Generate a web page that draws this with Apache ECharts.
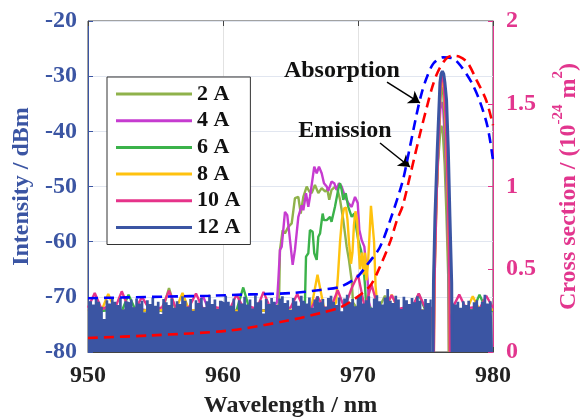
<!DOCTYPE html>
<html>
<head>
<meta charset="utf-8">
<script src="https://cdn.jsdelivr.net/npm/echarts@6/dist/echarts.min.js"></script>
<style>
  html, body { margin: 0; padding: 0; background: #fff; }
  #chart { width: 580px; height: 420px; }
</style>
</head>
<body>
<div id="chart"></div>
<script>
// ---------- axes ----------
const wlMin = 950, wlMax = 980, wlStep = 10;
const dbMin = -80, dbMax = -20, dbStep = 10;
const csMin = 0, csMax = 2, csStep = 0.5;

const seriesNames = ['2 A', '4 A', '6 A', '8 A', '10 A', '12 A'];

// ---------- 12 A noise floor (dBm), 0.2 nm sampling ----------
const noise12Start = 950.0, noise12Step = 0.2;
const noise12Left = [
  -70.0, -70.8, -71.4, -70.3, -70.9, -71.8, -74.0, -70.6, -71.2, -70.4,
  -70.9, -71.5, -70.2, -72.3, -70.8, -71.0, -70.5, -71.9, -70.3, -71.2,
  -70.7, -72.8, -70.6, -71.3, -70.1, -71.6, -70.9, -73.1, -70.4, -71.0,
  -71.5, -70.3, -72.0, -70.8, -71.3, -69.9, -70.7, -71.8, -70.4, -72.5,
  -70.6, -71.1, -70.2, -71.9, -70.8, -69.6, -71.3, -70.5, -72.2, -70.7,
  -71.0, -69.8, -70.9, -71.6, -70.3, -72.6, -70.6, -71.2, -70.0, -71.4,
  -70.5, -72.1, -69.7, -71.0, -70.6, -73.0, -70.4, -71.3, -70.2, -70.9,
  -71.5, -70.3, -69.9, -71.1, -70.6, -72.4, -70.2, -70.8, -71.6, -69.8,
  -70.7, -71.2, -70.1, -72.0, -70.5, -69.9, -71.0, -70.4, -71.8, -70.2,
  -69.8, -70.9, -71.5, -70.1, -72.6, -70.3, -69.6, -71.0, -70.4, -71.7,
  -70.0, -69.5, -71.2, -70.6, -69.9, -72.0, -70.3, -69.7, -70.8, -71.4,
  -70.1, -68.6, -70.7, -71.1, -69.8, -70.5, -72.2, -70.0, -70.6, -71.3,
  -70.2, -71.0, -69.9, -70.7, -72.3, -70.4, -71.1, -70.5
];
const noise12RightStart = 977.0;
const noise12Right = [
  -70.6, -71.4, -70.9, -72.0, -70.8, -71.5, -70.7, -72.3,
  -71.0, -70.6, -71.8, -70.9, -69.6, -71.2, -70.8, -71.5
];
const noiseGapStart = 975.52, noiseGapEnd = 976.98;

// ---------- floors of the lower currents, 0.5 nm sampling ----------
const floorStart = 950.0, floorStep = 0.5, floorRightStart = 977.0;
const floor2A = [
  -72.4, -72.6, -72.3, -72.5, -72.6, -72.4, -72.5, -72.3, -72.6, -72.5,
  -72.4, -72.6, -68.4, -72.5, -72.3, -72.6, -72.4, -72.5, -72.6, -72.3,
  -72.5, -72.4, -72.6, -72.3, -72.5, -72.6, -72.4, -72.5, -72.3, -72.6,
  -72.5, -72.4, -72.6, -72.3, -72.5, -72.4, -72.6, -72.5, -72.3, -72.6,
  -72.4, -72.5, -72.6, -72.3, -69.8, -72.5, -72.4, -72.6, -72.3, -72.5,
  -72.6, -72.4
];
const floor2ARight = [-72.5, -72.3, -72.6, -72.4, -72.5, -72.6, -72.3];
const floor4A = [
  -72.6, -72.4, -72.5, -72.3, -72.6, -72.5, -72.4, -72.6, -72.3, -72.5,
  -72.4, -72.6, -72.5, -72.3, -72.6, -72.4, -72.5, -69.8, -72.6, -72.3,
  -72.5, -72.4, -72.6, -72.5, -72.3, -72.6, -72.4, -72.5, -72.6, -72.3,
  -72.4, -72.5, -72.6, -72.3, -72.5, -72.4, -72.6, -72.5, -72.3, -72.6,
  -72.4, -72.5, -72.6, -72.3, -72.5, -72.4, -72.6, -72.5, -72.3, -72.6,
  -72.4, -72.5
];
const floor4ARight = [-72.4, -72.6, -72.5, -72.3, -72.6, -72.4, -72.5];
const floor6A = [
  -72.5, -72.3, -72.6, -72.4, -72.5, -72.6, -69.6, -72.3, -72.5, -72.4,
  -72.6, -72.5, -72.3, -72.6, -72.4, -72.5, -72.6, -72.3, -72.4, -72.5,
  -72.6, -72.4, -72.5, -68.3, -72.6, -72.4, -72.5, -72.3, -72.6, -72.4,
  -72.5, -72.6, -72.3, -72.4, -72.5, -72.6, -72.4, -72.3, -72.5, -72.6,
  -72.4, -72.5, -72.3, -72.6, -72.4, -72.5, -72.6, -72.3, -72.4, -69.5,
  -72.5, -72.6
];
const floor6ARight = [-72.4, -72.6, -72.3, -72.5, -69.6, -72.4, -72.6];
const floor8A = [
  -72.4, -72.6, -72.5, -69.5, -72.3, -72.6, -72.4, -72.5, -72.6, -72.3,
  -72.5, -72.4, -72.6, -72.3, -69.3, -72.5, -72.4, -72.6, -72.5, -72.3,
  -72.6, -72.4, -72.5, -72.6, -72.3, -72.4, -72.5, -72.6, -72.4, -72.3,
  -72.5, -72.6, -72.4, -72.5, -66.0, -72.3, -72.6, -72.4, -72.5, -72.6,
  -72.3, -72.4, -72.5, -72.6, -72.4, -69.6, -72.5, -72.3, -72.6, -72.4,
  -72.5, -72.6
];
const floor8ARight = [-72.3, -72.5, -72.6, -69.9, -72.4, -72.5, -72.3];
const floor10A = [
  -72.0, -69.3, -72.2, -71.8, -72.1, -69.0, -72.0, -72.3, -70.0, -72.1,
  -72.2, -71.9, -68.9, -72.0, -72.3, -71.8, -69.4, -72.1, -72.0, -71.9,
  -72.1, -72.3, -69.6, -72.0, -71.8, -72.2, -69.1, -72.0, -72.3, -71.9,
  -72.0, -69.5, -72.1, -72.2, -70.0, -72.0, -71.9, -68.8, -72.1, -68.6,
  -66.0, -72.0, -67.8, -72.1, -72.0, -69.7, -72.2, -71.9, -72.0, -69.4,
  -72.1, -72.0
];
const floor10ARight = [-72.0, -69.6, -72.1, -71.9, -72.2, -69.8, -72.0];

// ---------- broadband ASE bumps [nm, dBm] ----------
const bump2A = [
  [964.15, -71.0], [964.22, -61.5], [964.42, -57.9], [964.59, -58.5], [964.84, -57.3],
  [965.09, -56.7], [965.33, -52.1], [965.58, -51.9], [965.76, -54.9], [965.95, -51.9],
  [966.20, -50.0], [966.39, -50.9], [966.57, -51.2], [966.81, -49.7], [967.06, -51.2],
  [967.31, -50.3], [967.56, -50.9], [967.73, -50.6], [967.87, -52.4], [968.04, -50.6],
  [968.33, -50.0], [968.49, -50.6], [968.67, -52.4], [968.91, -56.1], [969.16, -60.9],
  [969.33, -63.3], [969.53, -67.0], [969.63, -71.0]
];
const bump4A = [
  [964.00, -71.0], [964.10, -67.0], [964.22, -61.5], [964.35, -60.9], [964.59, -54.6],
  [964.76, -55.2], [964.91, -58.5], [965.16, -64.2], [965.33, -61.5], [965.58, -55.5],
  [965.83, -53.4], [965.95, -54.3], [966.15, -51.2], [966.32, -53.7], [966.44, -51.9],
  [966.57, -49.7], [966.76, -46.4], [966.94, -47.6], [967.11, -46.4], [967.31, -47.6],
  [967.48, -49.4], [967.68, -50.0], [967.80, -50.8], [968.04, -49.1], [968.24, -49.4],
  [968.41, -50.6], [968.59, -49.4], [968.79, -50.0], [969.04, -51.9], [969.28, -53.0],
  [969.53, -53.7], [969.78, -51.9], [969.98, -53.0], [970.10, -57.9], [970.27, -59.7],
  [970.47, -60.9], [970.56, -63.3], [970.71, -66.9], [970.81, -71.0]
];
const bump6A = [
  [966.07, -71.0], [966.15, -62.7], [966.32, -62.1], [966.44, -57.9], [966.64, -58.2],
  [966.76, -62.1], [966.94, -63.3], [967.06, -59.1], [967.19, -58.5], [967.38, -54.9],
  [967.48, -56.1], [967.68, -56.1], [967.93, -55.5], [968.04, -56.4], [968.29, -53.7],
  [968.54, -50.5], [968.67, -49.4], [968.79, -50.6], [968.91, -52.4], [969.09, -51.2],
  [969.28, -53.7], [969.53, -55.5], [969.73, -54.9], [969.90, -57.9], [970.02, -59.7],
  [970.22, -61.5], [970.39, -63.9], [970.52, -68.0], [970.59, -71.0]
];
const bump8A = [
  [968.37, -71.0], [968.52, -66.0], [968.67, -60.0], [968.81, -56.0], [968.96, -54.0],
  [969.11, -53.8], [969.22, -56.0], [969.33, -60.0], [969.48, -64.0], [969.59, -62.0],
  [969.70, -57.0], [969.81, -54.5], [969.93, -56.0], [970.04, -61.0], [970.15, -65.0],
  [970.30, -62.0], [970.41, -66.0], [970.52, -62.0], [970.63, -67.0], [970.74, -64.0],
  [970.85, -59.0], [970.96, -53.5], [971.07, -53.8], [971.19, -60.0], [971.30, -68.0],
  [971.41, -71.0]
];

// ---------- laser lines near 976 nm [nm, dBm] ----------
const peak2A = [
  [975.56, -80], [975.62, -66], [975.75, -55], [975.92, -46], [976.08, -40.5],
  [976.18, -39.0], [976.28, -40.0], [976.42, -46], [976.55, -55], [976.68, -66], [976.72, -80]
];
const peak4A = [
  [975.58, -80], [975.64, -66], [975.78, -54], [975.95, -43], [976.10, -36.0],
  [976.20, -34.7], [976.30, -35.5], [976.45, -42], [976.60, -53], [976.72, -66], [976.75, -80]
];
const peak6A = [
  [975.60, -80], [975.66, -66], [975.80, -53], [975.97, -41], [976.10, -34.0],
  [976.22, -32.0], [976.32, -33.0], [976.47, -40], [976.62, -52], [976.74, -66], [976.77, -80]
];
const peak8A = [
  [975.62, -80], [975.68, -66], [975.82, -52], [975.99, -40], [976.12, -32.5],
  [976.22, -30.7], [976.33, -31.5], [976.49, -39], [976.64, -51], [976.76, -66], [976.79, -80]
];
const peak10A = [
  [975.62, -80], [975.68, -66], [975.83, -51], [976.00, -39], [976.13, -31.5],
  [976.23, -29.8], [976.34, -30.8], [976.50, -38], [976.65, -50], [976.77, -66], [976.80, -80]
];
const peak12A = [
  [975.56, -80], [975.59, -67.5], [975.70, -55.5], [975.87, -43.4], [976.02, -34.3],
  [976.07, -31.2], [976.15, -29.6], [976.25, -29.1], [976.35, -29.6], [976.44, -31.2],
  [976.56, -34.3], [976.69, -43.4], [976.81, -55.5], [976.94, -67.5], [976.97, -80]
];

// ---------- Yb cross sections (10^-24 m^2) ----------
const absorption = [
  [950.0, 0.325], [953.0, 0.330], [956.0, 0.335], [959.0, 0.340], [962.0, 0.348],
  [965.0, 0.356], [967.2, 0.375], [968.7, 0.395], [969.9, 0.45], [970.7, 0.53],
  [971.6, 0.63], [972.4, 0.80], [973.3, 1.03], [973.8, 1.22], [974.3, 1.42],
  [974.7, 1.56], [975.1, 1.66], [975.6, 1.745], [976.3, 1.78], [977.0, 1.775],
  [977.6, 1.73], [978.4, 1.63], [979.0, 1.52], [979.6, 1.36], [980.0, 1.16]
];
const emission = [
  [950.0, 0.085], [954.6, 0.10], [960.5, 0.13], [964.8, 0.19], [967.2, 0.235],
  [968.7, 0.27], [969.9, 0.33], [970.9, 0.40], [971.6, 0.51], [972.4, 0.67],
  [972.9, 0.80], [973.3, 0.88], [973.9, 1.08], [974.6, 1.32], [975.1, 1.48],
  [975.5, 1.60], [975.9, 1.69], [976.5, 1.77], [977.0, 1.79], [977.5, 1.785],
  [978.1, 1.75], [978.8, 1.64], [979.5, 1.52], [980.0, 1.37]
];

// annotation anchors in (nm, cross section)
const absLabelAt = [968.81, 1.70], absArrow = [[972.15, 1.631], [974.59, 1.505]];
const emiLabelAt = [969.04, 1.335], emiArrow = [[971.63, 1.263], [973.85, 1.118]];

// ---------- styling ----------
const FONT = '"Liberation Serif", "Times New Roman", serif';
const C_LEFT = '#3B55A3';
const C_RIGHT = '#E2368E';
const colors = {
  '2 A': '#8FB24B', '4 A': '#C63BD0', '6 A': '#3BB24A',
  '8 A': '#FFC20E', '10 A': '#E6338A', '12 A': '#3B55A3'
};

// ---------- helpers ----------
function sampled(values, start, step) {
  return values.map((v, i) => [+(start + i * step).toFixed(2), v]);
}
function spectrum(floorL, floorR, bump, peak) {
  let left = sampled(floorL, floorStart, floorStep);
  if (bump) {
    const a = bump[0][0], b = bump[bump.length - 1][0];
    left = left.filter(p => p[0] < a || p[0] > b).concat(bump);
    left.sort((p, q) => p[0] - q[0]);
  }
  return left.concat(peak, sampled(floorR, floorRightStart, floorStep));
}

const noise12 = sampled(noise12Left, noise12Start, noise12Step)
  .concat([[noiseGapStart, -80], [noiseGapEnd, -80]],
          sampled(noise12Right, noise12RightStart, noise12Step));

function specSeries(name, data, z, width) {
  return {
    name, type: 'line', data, z,
    showSymbol: false, symbol: 'none', clip: true,
    lineStyle: { color: colors[name], width: width || 2.4 },
    itemStyle: { color: colors[name] },
    emphasis: { disabled: true }
  };
}

const labelStyle = {
  show: true, position: 'inside', fontFamily: FONT, fontSize: 24,
  fontWeight: 'bold', color: '#111'
};
const arrowLine = {
  silent: true, symbol: ['none', 'arrow'], symbolSize: 11,
  lineStyle: { color: '#000', width: 1.5, type: 'solid' },
  label: { show: false }, emphasis: { disabled: true }
};

const chart = echarts.init(document.getElementById('chart'), null, { renderer: 'canvas' });
chart.setOption({
  animation: false,
  backgroundColor: '#fff',
  grid: {
    left: 88, right: 87, top: 21, bottom: 68,
    outerBoundsMode: 'none', containLabel: false,
    show: true, borderColor: '#444', borderWidth: 1
  },
  legend: {
    orient: 'vertical', left: 107, top: 77,
    padding: [6, 10, 6, 9],
    itemWidth: 76, itemHeight: 3, itemGap: 4.7, icon: 'rect',
    backgroundColor: '#fff', borderColor: '#333', borderWidth: 1,
    textStyle: { fontFamily: FONT, fontWeight: 'bold', fontSize: 22, color: '#111', lineHeight: 22 },
    selectedMode: false,
    data: seriesNames
  },
  xAxis: [{
    type: 'value', min: wlMin, max: wlMax, interval: wlStep,
    name: 'Wavelength / nm', nameLocation: 'middle', nameGap: 42,
    nameTextStyle: { fontFamily: FONT, fontWeight: 'bold', fontSize: 24, color: '#222' },
    axisLine: { show: true, lineStyle: { color: '#444' } },
    axisTick: { show: true, inside: true, length: 5, lineStyle: { color: '#444' } },
    axisLabel: { fontFamily: FONT, fontWeight: 'bold', fontSize: 24, color: '#222', margin: 12 },
    splitLine: { show: true, lineStyle: { color: '#E2E2E2', width: 1 } }
  }, {
    type: 'value', min: wlMin, max: wlMax, interval: wlStep, position: 'top',
    axisLine: { show: false },
    axisTick: { show: true, inside: true, length: 5, lineStyle: { color: '#444' } },
    axisLabel: { show: false }, splitLine: { show: false }
  }],
  yAxis: [{
    type: 'value', min: dbMin, max: dbMax, interval: dbStep, position: 'left',
    name: 'Intensity / dBm', nameLocation: 'middle', nameGap: 46,
    nameTextStyle: { fontFamily: FONT, fontWeight: 'bold', fontSize: 24, color: C_LEFT },
    axisLine: { show: true, lineStyle: { color: C_LEFT } },
    axisTick: { show: true, inside: true, length: 5, lineStyle: { color: C_LEFT } },
    axisLabel: { fontFamily: FONT, fontWeight: 'bold', fontSize: 24, color: C_LEFT, margin: 11 },
    splitLine: { show: true, lineStyle: { color: '#E1E6F0', width: 1 } }
  }, {
    type: 'value', min: csMin, max: csMax, interval: csStep, position: 'right',
    name: '{m|Cross section / (10}{s|-24}{m| m}{s|2}{m|)}',
    nameLocation: 'middle', nameGap: 58,
    nameTextStyle: {
      fontFamily: FONT, fontWeight: 'bold', fontSize: 24, color: C_RIGHT,
      rich: {
        m: { fontFamily: FONT, fontWeight: 'bold', fontSize: 24, color: C_RIGHT, lineHeight: 30, verticalAlign: 'bottom' },
        s: { fontFamily: FONT, fontWeight: 'bold', fontSize: 15, color: C_RIGHT, lineHeight: 30, verticalAlign: 'top' }
      }
    },
    axisLine: { show: true, lineStyle: { color: C_RIGHT } },
    axisTick: { show: true, inside: true, length: 5, lineStyle: { color: C_RIGHT } },
    axisLabel: {
      fontFamily: FONT, fontWeight: 'bold', fontSize: 24, color: C_RIGHT, margin: 13,
      formatter: v => String(v)
    },
    splitLine: { show: false }
  }],
  series: [
    specSeries('2 A', spectrum(floor2A, floor2ARight, bump2A, peak2A), 2),
    specSeries('4 A', spectrum(floor4A, floor4ARight, bump4A, peak4A), 2),
    specSeries('6 A', spectrum(floor6A, floor6ARight, bump6A, peak6A), 2),
    specSeries('8 A', spectrum(floor8A, floor8ARight, bump8A, peak8A), 2),
    specSeries('10 A', spectrum(floor10A, floor10ARight, null, peak10A), 2),
    {
      name: '12 A', type: 'line', data: noise12, z: 3, step: 'middle',
      showSymbol: false, symbol: 'none', clip: true,
      lineStyle: { width: 0, color: colors['12 A'] },
      itemStyle: { color: colors['12 A'] },
      areaStyle: { origin: 'start', color: colors['12 A'], opacity: 1 },
      emphasis: { disabled: true }
    },
    specSeries('12 A', peak12A, 4, 3),
    {
      name: 'Absorption', type: 'line', yAxisIndex: 1, data: absorption, z: 5,
      showSymbol: false, symbol: 'none', smooth: 0.3,
      lineStyle: { color: '#0000FF', width: 2.6, type: [10, 6] },
      itemStyle: { color: '#0000FF' },
      emphasis: { disabled: true },
      markPoint: {
        silent: true, symbol: 'circle', symbolSize: 0,
        data: [{ coord: absLabelAt, label: Object.assign({ formatter: 'Absorption' }, labelStyle) }]
      },
      markLine: Object.assign({ data: [[{ coord: absArrow[0] }, { coord: absArrow[1] }]] }, arrowLine)
    },
    {
      name: 'Emission', type: 'line', yAxisIndex: 1, data: emission, z: 5,
      showSymbol: false, symbol: 'none', smooth: 0.3,
      lineStyle: { color: '#FF0000', width: 2.6, type: [10, 6] },
      itemStyle: { color: '#FF0000' },
      emphasis: { disabled: true },
      markPoint: {
        silent: true, symbol: 'circle', symbolSize: 0,
        data: [{ coord: emiLabelAt, label: Object.assign({ formatter: 'Emission' }, labelStyle) }]
      },
      markLine: Object.assign({ data: [[{ coord: emiArrow[0] }, { coord: emiArrow[1] }]] }, arrowLine)
    }
  ]
});
</script>
</body>
</html>
